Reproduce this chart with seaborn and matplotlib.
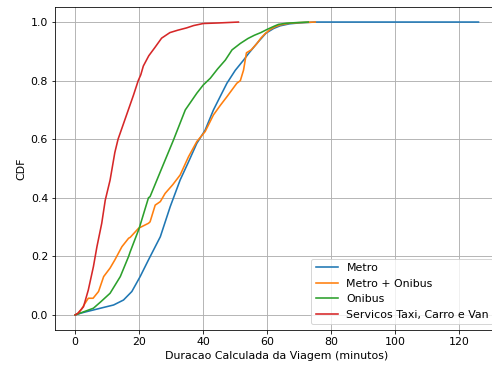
import matplotlib
matplotlib.use("Agg")
import matplotlib.pyplot as plt
import seaborn as sns
import pandas as pd

# Data (duration in minutes, cumulative fraction)
metro_x = [0, 2, 5.7, 9, 12, 15.1, 17.7, 20.3, 22.9, 26.6, 29.7, 32.8, 35.3, 38, 40.6,
           43.2, 45.5, 47.4, 50, 52.6, 54.2, 57, 59.6, 62, 64, 67, 70, 75, 90, 110, 126]
metro_y = [0, 0.007, 0.017, 0.026, 0.034, 0.051, 0.08, 0.131, 0.188, 0.267, 0.37, 0.461, 0.52, 0.586, 0.631,
           0.70, 0.75, 0.791, 0.835, 0.87, 0.893, 0.93, 0.962, 0.978, 0.987, 0.994, 0.997, 1.0, 1.0, 1.0, 1.0]

mo_x = [0, 0.9, 2, 3.1, 4.1, 5.6, 7.3, 8.9, 10.9, 12.4, 14.6, 16.7, 17.2, 19.8, 22.9, 23.4, 25, 26.6, 28.1,
        30.5, 32.8, 35.4, 38, 40.6, 43.2, 45.3, 47.4, 50.5, 51.6, 52.6, 53.5,
        55, 56.8, 58, 59.4, 61, 62.5, 64, 67, 70, 75]
mo_y = [0, 0.006, 0.02, 0.04, 0.057, 0.057, 0.08, 0.131, 0.16, 0.188, 0.233, 0.262, 0.265, 0.296, 0.313, 0.318,
        0.375, 0.387, 0.415, 0.445, 0.478, 0.54, 0.592, 0.626, 0.683, 0.715, 0.745, 0.791, 0.80, 0.836, 0.895,
        0.905, 0.927, 0.945, 0.961, 0.975, 0.984, 0.99, 0.996, 0.998, 1.0]

onibus_x = [0, 2.5, 5.7, 8, 10.9, 14.1, 16.7, 17.2, 19.8, 20, 22.9, 23.4, 26.6, 30.7, 34.4,
            38, 40, 42.2, 44.5, 46.9, 49, 51.6, 54, 56, 58, 60, 62, 63.5, 66, 69, 72.8]
onibus_y = [0, 0.01, 0.023, 0.045, 0.074, 0.131, 0.2, 0.216, 0.29, 0.296, 0.4, 0.404, 0.489, 0.597, 0.70,
            0.757, 0.785, 0.808, 0.84, 0.87, 0.905, 0.927, 0.944, 0.955, 0.964, 0.975, 0.985,
            0.992, 0.996, 0.998, 1.0]

taxi_x = [0, 0.9, 2.6, 4.1, 5.7, 6.8, 8.3, 9.4, 10.9, 12.4, 13.4, 15, 16.6, 18.2, 19.7, 20.5,
          21.3, 23, 24.9, 27, 29.6, 32, 34.8, 37, 40, 45, 51]
taxi_y = [0, 0.006, 0.028, 0.085, 0.165, 0.233, 0.313, 0.392, 0.46, 0.555, 0.6, 0.65, 0.70,
          0.75, 0.8, 0.82, 0.85, 0.885, 0.913, 0.945, 0.964, 0.972, 0.98, 0.988, 0.995, 0.997, 1.0]

labels = ["Metro", "Metro + Onibus", "Onibus", "Servicos Taxi, Carro e Van"]
colors = sns.color_palette("tab10", 4)

fig = plt.figure(figsize=(492 / 72, 367 / 72), dpi=72)
ax = fig.add_axes([55 / 492, 37.4 / 367, (499 - 55) / 492, (329.6 - 7.4) / 367])

series = [(metro_x, metro_y), (mo_x, mo_y), (onibus_x, onibus_y), (taxi_x, taxi_y)]
for (xs, ys), lab, col in zip(series, labels, colors):
    df = pd.DataFrame({"x": xs, "y": ys})
    sns.lineplot(data=df, x="x", y="y", ax=ax, color=col, label=lab, sort=False,
                 estimator=None, linewidth=1.6)

ax.grid(True, color="#b0b0b0", linewidth=0.9)
ax.set_axisbelow(True)
ax.set_xlabel("Duracao Calculada da Viagem (minutos)", fontsize=11)
ax.set_ylabel("CDF", fontsize=11)
ax.set_xlim(-6.3, 132.4)
ax.set_ylim(-0.05, 1.05)
ax.set_xticks([0, 20, 40, 60, 80, 100, 120])
ax.set_yticks([0.0, 0.2, 0.4, 0.6, 0.8, 1.0])
ax.tick_params(labelsize=11)
ax.legend(loc="lower right", fontsize=11)

fig.savefig("out.png", dpi=72)
